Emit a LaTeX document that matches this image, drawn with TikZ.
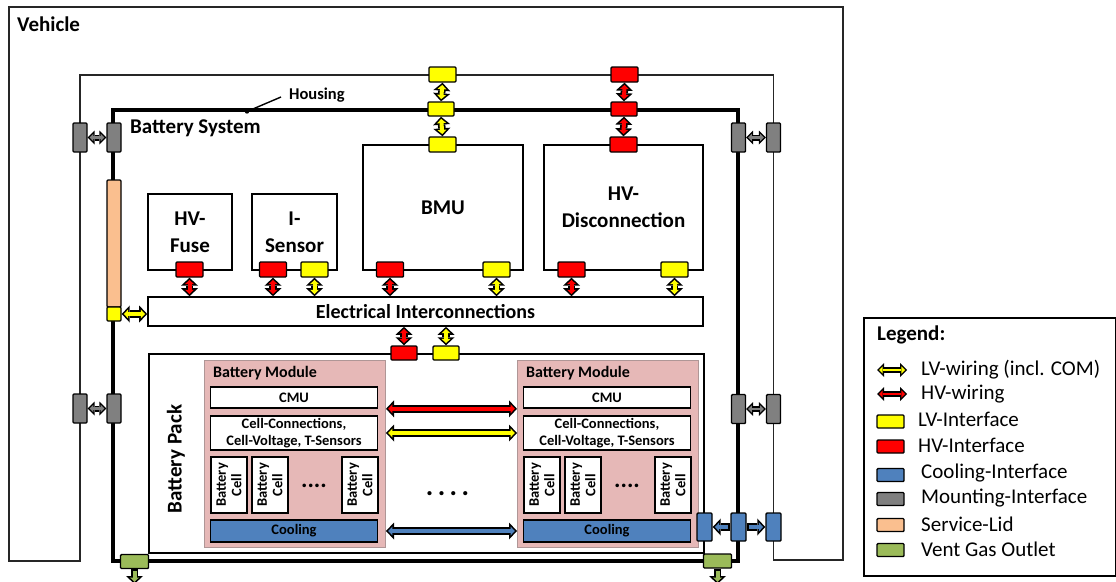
\documentclass[tikz,border=0pt]{standalone}
\usepackage{fontspec}
\setmainfont{Carlito}
\usetikzlibrary{arrows.meta,calc}

\definecolor{lvyel}{RGB}{255,255,0}
\definecolor{hvred}{RGB}{255,0,0}
\definecolor{coolblue}{RGB}{79,129,189}
\definecolor{mountgray}{RGB}{128,128,128}
\definecolor{lidorange}{RGB}{250,191,143}
\definecolor{ventgreen}{RGB}{155,187,89}
\definecolor{modpink}{RGB}{230,184,183}
\definecolor{modedge}{RGB}{175,150,150}

\newcommand\fbig{\fontsize{21}{27}\selectfont\bfseries}
\newcommand\fhous{\fontsize{16.5}{20}\selectfont\bfseries}
\newcommand\fmodt{\fontsize{16}{19}\selectfont\bfseries}
\newcommand\fmod{\fontsize{14.5}{16.5}\selectfont\bfseries}
\newcommand\fcell{\fontsize{14.5}{15.5}\selectfont\bfseries}
\newcommand\flgd{\fontsize{21}{25}\selectfont}

% block arrow = black outline + coloured core
\newcommand\wire[4][<->]{%
  \draw[wire out,#1] (#3) -- (#4);
  \draw[wire in=#2,#1] (#3) -- (#4);}
\newcommand\mwire[3]{%
  \draw[mount out] (#2) -- (#3);
  \draw[mount in=#1] (#2) -- (#3);}

\begin{document}
\begin{tikzpicture}[x=1pt, y=-1pt,
  vehline/.style = {line width=1.6pt, draw=black!85},
  unit/.style    = {draw, line width=1.6pt, fill=white, align=center,
                    font=\fbig, inner sep=0pt},
  ifc/.style     = {draw, line width=1.4pt, rounded corners=1pt, fill=#1,
                    inner sep=0pt, minimum width=27pt, minimum height=15pt},
  mnt/.style     = {ifc=mountgray, minimum width=14pt, minimum height=29pt},
  cif/.style     = {ifc=coolblue, minimum width=15pt, minimum height=28pt},
  vent/.style    = {ifc=ventgreen, minimum width=28pt, minimum height=14pt},
  module/.style  = {draw=modedge, line width=1pt, fill=modpink, inner sep=0pt,
                    minimum width=181pt, minimum height=187pt},
  inbox/.style   = {draw, line width=1.6pt, fill=white, align=center,
                    font=\fmod, inner sep=0pt, minimum width=167pt},
  cellbox/.style = {inbox, font=\fcell, minimum width=56pt,
                    minimum height=36pt, rotate=90},
  swatch/.style  = {ifc=#1, minimum width=27pt, minimum height=13pt},
  lgtext/.style  = {anchor=west, font=\flgd, inner sep=0pt},
  lbl/.style     = {anchor=west, font=\fbig, inner sep=0pt},
  wire out/.style= {line width=7.5pt, draw=black,
                    >={Triangle[line width=0pt, length=8pt, width=17pt]}},
  wire in/.style = {line width=4pt, draw=#1, shorten <=2.2pt, shorten >=2.2pt,
                    >={Triangle[line width=0pt, length=4.2pt, width=8.9pt]}},
  mount out/.style={line width=6pt, draw=black, <->,
                    >={Triangle[line width=0pt, length=7pt, width=14pt]}},
  mount in/.style= {line width=2.8pt, draw=#1, <->, shorten <=2pt, shorten >=2pt,
                    >={Triangle[line width=0pt, length=3.6pt, width=7.2pt]}},
]
\path[use as bounding box, fill=white] (0,0) rectangle (1116,581);

% ===== Vehicle outline =====
\draw[vehline] (9,561) -- (9,7) -- (843,7) -- (843,560) -- (773.5,560)
   -- (773.5,75) -- (80,75) -- (80,561) -- cycle;
\node[lbl] (vehlbl) at (17,24) {Vehicle};

% ===== Battery system housing =====
\draw[line width=4pt] (113,110) rectangle (738,561);
\node[lbl] (bslbl) at (130,128) {Battery System};
\node[anchor=west, font=\fhous, inner sep=0pt] (houslbl) at (289,95) {Housing};
\coordinate (houspt) at (247,111.5);
\fill (houspt) circle (2.2);
\draw[line width=1.4pt] (houspt) -- ([xshift=-8pt,yshift=-2pt]houslbl.west);

% ===== Units =====
\node[unit, minimum width=84pt, minimum height=76pt] (fuse) at (190,232) {HV-\\Fuse};
\node[unit, minimum width=85pt, minimum height=76pt] (isens) at (294.5,232) {I-\\Sensor};
\node[unit, minimum width=160pt, minimum height=125pt] (bmu) at (443,207.5) {BMU};
\node[unit, minimum width=159pt, minimum height=125pt] (hvd) at (623.5,207.5) {HV-\\Disconnection};
\node[unit, minimum width=555pt, minimum height=29pt] (eic) at (425.5,311.5)
      {\fontsize{20}{24}\selectfont Electrical Interconnections};

% ===== Battery pack =====
\node[draw, line width=1.6pt, minimum width=555pt, minimum height=199pt,
      inner sep=0pt, anchor=north west] (pack) at (148,353) {};
\node[font=\fbig, rotate=90] (packlbl) at (176,459) {Battery Pack};

\foreach \m/\ox in {A/204, B/517} {
  \node[module, anchor=north west] (mod\m) at (\ox,360) {};
  \node[anchor=west, font=\fmodt, inner sep=0pt] (mod\m-t) at (\ox+9,373) {Battery Module};
  \node[inbox, minimum height=21pt] (mod\m-cmu) at (\ox+90,397.5) {CMU};
  \node[inbox, minimum height=34pt] (mod\m-con) at (\ox+90,433)
        {Cell-Connections,\\Cell-Voltage, T-Sensors};
  \foreach \c/\cx in {1/25, 2/66, 3/156}
    \node[cellbox] (mod\m-c\c) at (\ox+\cx,485) {Battery\\Cell};
  \node[font=\fontsize{24}{24}\selectfont\bfseries] (mod\m-dots) at (\ox+110,486) {....};
  \node[inbox, fill=coolblue, minimum height=22pt] (mod\m-cool) at (\ox+90,531) {Cooling};
}
\node[font=\fontsize{28}{28}\selectfont\bfseries] (moddots) at (447.5,494)
      {.\hspace{4.5pt}.\hspace{4.5pt}.\hspace{4.5pt}.};

% ===== Interfaces =====
\node[ifc=lvyel] (vehLV) at (442.5,74.5) {};
\node[ifc=lvyel, minimum width=26pt, minimum height=14pt] (housLV) at (441,109) {};
\node[ifc=lvyel] (bmuTop) at (442.5,144.5) {};
\node[ifc=hvred] (vehHV) at (624.5,74.5) {};
\node[ifc=hvred, minimum width=26pt, minimum height=14pt] (housHV) at (624,109) {};
\node[ifc=hvred] (hvdTop) at (623.5,144.5) {};

\node[ifc=hvred] (fuseHV) at (189.5,269.5) {};
\node[ifc=hvred] (isHV) at (273,269.5) {};
\node[ifc=lvyel] (isLV) at (314.5,269.5) {};
\node[ifc=hvred] (bmuHV) at (390,269.5) {};
\node[ifc=lvyel] (bmuLV) at (496.5,269.5) {};
\node[ifc=hvred] (hvdHV) at (571.5,269.5) {};
\node[ifc=lvyel] (hvdLV) at (674.5,269.5) {};

\node[ifc=hvred, minimum width=26pt, minimum height=14pt] (packHV) at (404,353) {};
\node[ifc=lvyel, minimum width=26pt, minimum height=14pt] (packLV) at (446,353) {};

\node[draw, line width=1.4pt, rounded corners=1pt, fill=lidorange, inner sep=0pt,
      minimum width=14pt, minimum height=127pt] (lid) at (114,243.5) {};
\node[ifc=lvyel, minimum width=14pt, minimum height=14pt] (lidLV) at (114,314) {};

\node[mnt] (vmL1) at (80,137.5) {};
\node[mnt] (hmL1) at (114,137.5) {};
\node[mnt] (vmL2) at (80,408.5) {};
\node[mnt] (hmL2) at (114,408.5) {};
\node[mnt] (hmR1) at (738.5,137.5) {};
\node[mnt] (vmR1) at (773.5,137.5) {};
\node[mnt] (hmR2) at (738.5,409) {};
\node[mnt] (vmR2) at (773.5,409) {};

\node[cif] (pcool) at (704.5,527) {};
\node[cif] (hcool) at (738.5,527) {};
\node[cif] (vcool) at (773.5,527) {};

\node[vent] (ventL) at (134.5,561.5) {};
\node[vent] (ventR) at (717.5,561) {};
\coordinate (ventLout) at (134.5,584);
\coordinate (ventRout) at (717.5,584);

% ===== Wiring =====
\wire{lvyel}{vehLV.south}{housLV.north}
\wire{lvyel}{housLV.south}{bmuTop.north}
\wire{hvred}{vehHV.south}{housHV.north}
\wire{hvred}{housHV.south}{hvdTop.north}

\foreach \n/\c in {fuseHV/hvred, isHV/hvred, isLV/lvyel, bmuHV/hvred,
                   bmuLV/lvyel, hvdHV/hvred, hvdLV/lvyel} {
  \wire{\c}{\n.south}{\n.south |- eic.north}
}
\wire{hvred}{eic.south -| packHV.north}{packHV.north}
\wire{lvyel}{eic.south -| packLV.north}{packLV.north}
\wire{lvyel}{lidLV.east}{lidLV.east -| eic.west}

\wire{hvred}{modA.east |- modA-cmu.south}{modB.west |- modA-cmu.south}
\wire{lvyel}{modA.east |- modA-con.center}{modB.west |- modA-con.center}
\wire{coolblue}{modA.east |- modA-cool.center}{modB.west |- modA-cool.center}

\mwire{mountgray}{vmL1.east}{hmL1.west}
\mwire{mountgray}{vmL2.east}{hmL2.west}
\mwire{mountgray}{hmR1.east}{vmR1.west}
\mwire{mountgray}{hmR2.east}{vmR2.west}

\wire[->]{coolblue}{hcool.west}{pcool.east}
\wire[->]{coolblue}{hcool.east}{vcool.west}
\wire[->]{ventgreen}{ventL.south}{ventLout}
\wire[->]{ventgreen}{ventR.south}{ventRout}

% ===== Legend =====
\node[draw, line width=1.6pt, minimum width=252pt, minimum height=258pt,
      inner sep=0pt, anchor=north west] (legend) at (863,317) {};
\node[anchor=west, font=\fbig, inner sep=0pt] (lgtitle) at (877,335) {Legend:};
\coordinate (lg1a) at (877,370);
\coordinate (lg1b) at (907,370);
\coordinate (lg2a) at (877,394);
\coordinate (lg2b) at (907,394);
\mwire{lvyel}{lg1a}{lg1b}
\mwire{hvred}{lg2a}{lg2b}
\node[lgtext] (lg1) at (921,370) {LV-wiring (incl. COM)};
\node[lgtext] (lg2) at (921,394) {HV-wiring};
\node[swatch=lvyel] (lg3s) at (890.5,421.5) {};
\node[lgtext] (lg3) at (918,419) {LV-Interface};
\node[swatch=hvred] (lg4s) at (890.5,446.5) {};
\node[lgtext] (lg4) at (918,445) {HV-Interface};
\node[swatch=coolblue] (lg5s) at (890.5,475) {};
\node[lgtext] (lg5) at (921,473) {Cooling-Interface};
\node[swatch=mountgray] (lg6s) at (890.5,499) {};
\node[lgtext] (lg6) at (921,498) {Mounting-Interface};
\node[swatch=lidorange] (lg7s) at (890.5,525) {};
\node[lgtext] (lg7) at (921,524) {Service-Lid};
\node[swatch=ventgreen] (lg8s) at (890.5,550) {};
\node[lgtext] (lg8) at (921,549) {Vent Gas Outlet};
\end{tikzpicture}
\end{document}
